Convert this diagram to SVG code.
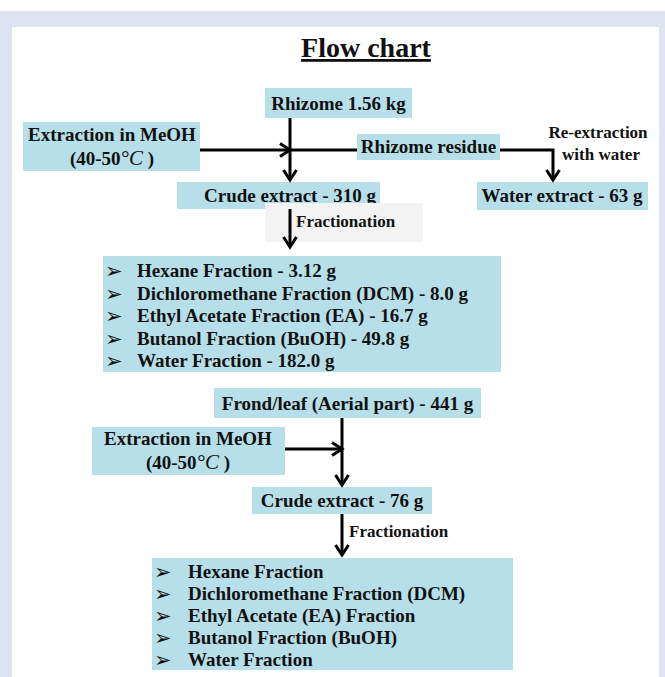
<svg xmlns="http://www.w3.org/2000/svg" width="665" height="677" viewBox="0 0 665 677">
<defs>
<style>
.t{font-family:"Liberation Serif","Times New Roman",serif;font-weight:bold;fill:#111;}
.n{font-size:19px;}
.s{font-size:17px;}
.box{fill:#b7dfea;}
.ln{stroke:#000;stroke-width:3;fill:none;}
.bul{font-family:"DejaVu Sans",sans-serif;font-size:21px;fill:#111;}
.deg{font-style:italic;font-weight:normal;}
</style>
<marker id="ah" markerUnits="userSpaceOnUse" markerWidth="16" markerHeight="16" viewBox="0 0 16 16" refX="13" refY="8" orient="auto">
<path d="M3,1.5 L13,8 L3,14.5" stroke="#000" stroke-width="3" fill="none"/>
</marker>
</defs>
<rect x="0" y="0" width="665" height="677" fill="#ffffff"/>
<rect x="0" y="11" width="665" height="666" fill="#dfe3f1"/>
<rect x="12" y="27" width="647" height="650" fill="#ffffff"/>

<g id="title">
<text class="t" x="366" y="57" font-size="28" text-anchor="middle" text-decoration="underline">Flow chart</text>
</g>

<g id="rhizome">
<rect class="box" x="265" y="88" width="147" height="30"/>
<text class="t n" x="338.5" y="110" text-anchor="middle">Rhizome 1.56 kg</text>
</g>

<g id="extraction1">
<rect class="box" x="23" y="122" width="177" height="49"/>
<text class="t n" x="112" y="141" text-anchor="middle">Extraction in MeOH</text>
<text class="t n" x="112" y="165" text-anchor="middle">(40-50<tspan class="deg" font-size="21">°C</tspan> )</text>
</g>

<g id="residue">
<rect class="box" x="357" y="134" width="143" height="26"/>
<text class="t n" x="428.5" y="153" text-anchor="middle">Rhizome residue</text>
</g>

<g id="reextraction">
<text class="t s" x="598" y="138" text-anchor="middle">Re-extraction</text>
<text class="t s" x="601" y="160" text-anchor="middle">with water</text>
</g>

<g id="crude1">
<rect class="box" x="177" y="182" width="203" height="27"/>
<text class="t n" x="290" y="202" text-anchor="middle">Crude extract - 310 g</text>
</g>

<g id="water-extract">
<rect class="box" x="477" y="182" width="171" height="28"/>
<text class="t n" x="562" y="202" text-anchor="middle">Water extract - 63 g</text>
</g>

<g id="fractionation1">
<rect x="265" y="203" width="158" height="39" fill="#f3f3f3"/>
<text class="t s" x="296" y="227">Fractionation</text>
</g>

<g id="fractions1">
<rect class="box" x="103" y="256" width="398" height="116"/>
<text class="bul"><tspan x="105" y="278">➢</tspan><tspan x="105" y="300.5">➢</tspan><tspan x="105" y="323">➢</tspan><tspan x="105" y="345.5">➢</tspan><tspan x="105" y="368">➢</tspan></text>
<text class="t n" x="137" y="277">Hexane Fraction - 3.12 g</text>
<text class="t n" x="137" y="299.5">Dichloromethane Fraction (DCM) - 8.0 g</text>
<text class="t n" x="137" y="322">Ethyl Acetate Fraction (EA) - 16.7 g</text>
<text class="t n" x="137" y="344.5">Butanol Fraction (BuOH) - 49.8 g</text>
<text class="t n" x="137" y="367">Water Fraction - 182.0 g</text>
</g>

<g id="frond">
<rect class="box" x="214" y="388" width="267" height="30"/>
<text class="t n" x="347.5" y="410" text-anchor="middle">Frond/leaf (Aerial part) - 441 g</text>
</g>

<g id="extraction2">
<rect class="box" x="92" y="427" width="193" height="48"/>
<text class="t n" x="188" y="445" text-anchor="middle">Extraction in MeOH</text>
<text class="t n" x="188" y="469" text-anchor="middle">(40-50<tspan class="deg" font-size="21">°C</tspan> )</text>
</g>

<g id="crude2">
<rect class="box" x="252" y="487" width="180" height="27"/>
<text class="t n" x="342" y="507" text-anchor="middle">Crude extract - 76 g</text>
</g>

<g id="fractionation2">
<text class="t s" x="349" y="537">Fractionation</text>
</g>

<g id="fractions2">
<rect class="box" x="152" y="558" width="361" height="112"/>
<text class="bul"><tspan x="154" y="579">➢</tspan><tspan x="154" y="601">➢</tspan><tspan x="154" y="623">➢</tspan><tspan x="154" y="645">➢</tspan><tspan x="154" y="667">➢</tspan></text>
<text class="t n" x="188" y="578">Hexane Fraction</text>
<text class="t n" x="188" y="600">Dichloromethane Fraction (DCM)</text>
<text class="t n" x="188" y="622">Ethyl Acetate (EA) Fraction</text>
<text class="t n" x="188" y="644">Butanol Fraction (BuOH)</text>
<text class="t n" x="188" y="666">Water Fraction</text>
</g>

<g id="connectors">
<line class="ln" x1="290" y1="118" x2="290" y2="180" marker-end="url(#ah)"/>
<line class="ln" x1="200" y1="150" x2="290" y2="150" marker-end="url(#ah)"/>
<line class="ln" x1="290" y1="150" x2="357" y2="150"/>
<polyline class="ln" points="500,150 553,150 553,180" marker-end="url(#ah)"/>
<line class="ln" x1="290" y1="209" x2="290" y2="247" marker-end="url(#ah)"/>
<line class="ln" x1="342" y1="418" x2="342" y2="485" marker-end="url(#ah)"/>
<line class="ln" x1="285" y1="449" x2="342" y2="449" marker-end="url(#ah)"/>
<line class="ln" x1="342" y1="514" x2="342" y2="555" marker-end="url(#ah)"/>
</g>
</svg>
